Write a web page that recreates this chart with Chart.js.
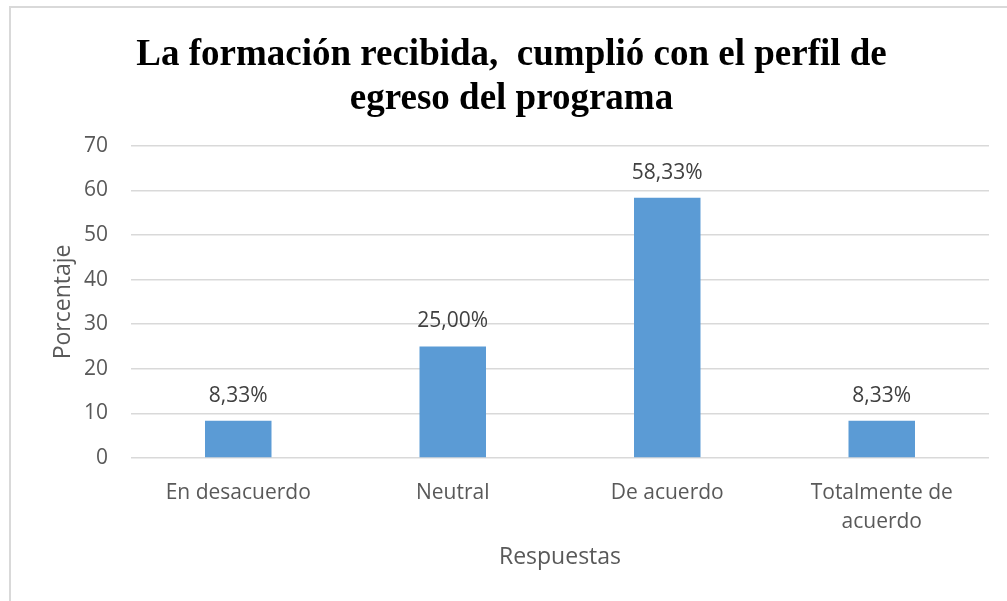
<!DOCTYPE html>
<html>
<head>
<meta charset="utf-8">
<script src="https://cdn.jsdelivr.net/npm/chart.js@4/dist/chart.umd.min.js"></script>
<style>
    body { margin: 0; background: #fff; }
    #wrap { position: relative; width: 1007px; height: 601px; overflow: hidden; }
    #marco { position: absolute; left: 9px; top: 6px; width: 1100px; height: 700px; border-left: 2px solid #d9d9d9; border-top: 2px solid #d9d9d9; pointer-events: none; }
</style>
</head>
<body>
<div id="wrap">
    <canvas id="myChart" width="1007" height="601"></canvas>
    <div id="marco"></div>
</div>
<script>
/** 数据 */
var categorias = ['En desacuerdo', 'Neutral', 'De acuerdo', ['Totalmente de', 'acuerdo']]
var porcentajes = [8.33, 25.00, 58.33, 8.33]
var ticksY = [0, 10, 20, 30, 40, 50, 60, 70]
var titulo = ['La formación recibida,  cumplió con el perfil de', 'egreso del programa']

var grafico = {
    init: function () {
        grafico.funcs.createChart()
    },
    funcs: {
        // etiquetas encima de las barras
        etiquetas: {
            id: 'etiquetas',
            afterDatasetsDraw: function (chart) {
                var ctx = chart.ctx
                var meta = chart.getDatasetMeta(0)
                ctx.save()
                ctx.font = '21px "Open Sans"'
                ctx.fillStyle = '#404040'
                ctx.textAlign = 'center'
                ctx.textBaseline = 'middle'
                meta.data.forEach(function (bar, i) {
                    var txt = porcentajes[i].toFixed(2).replace('.', ',') + '%'
                    ctx.fillText(txt, bar.x, bar.y - 25)
                })
                ctx.restore()
            }
        },
        createChart: function () {
            var ctx = document.getElementById('myChart').getContext('2d')
            new Chart(ctx, {
                type: 'bar',
                data: {
                    labels: categorias,
                    datasets: [{
                        data: porcentajes,
                        backgroundColor: '#5B9BD5',
                        categoryPercentage: 1,
                        barPercentage: 0.31
                    }]
                },
                options: {
                    responsive: false,
                    animation: false,
                    layout: { padding: { left: 34, right: 18, top: 0, bottom: 0 } },
                    plugins: {
                        legend: { display: false },
                        tooltip: { enabled: false },
                        title: {
                            display: true,
                            text: titulo,
                            color: '#000',
                            font: { family: '"Liberation Serif"', size: 37, weight: 'bold', lineHeight: 1.2 },
                            padding: { top: 33, bottom: 24 }
                        }
                    },
                    scales: {
                        x: {
                            grid: { display: false },
                            border: { display: false },
                            ticks: { color: '#595959', padding: 12, font: { family: '"Open Sans"', size: 21, lineHeight: 1.4 } },
                            title: { display: true, text: 'Respuestas', color: '#595959', font: { family: '"Open Sans"', size: 23 }, padding: { top: 0, bottom: 30 } },
                            afterFit: function (scale) { scale.height = 143 }
                        },
                        y: {
                            min: 0,
                            max: 70,
                            afterBuildTicks: function (scale) {
                                scale.ticks = ticksY.map(function (v) { return { value: v } })
                            },
                            grid: { color: '#d9d9d9', lineWidth: 1.5, drawTicks: false },
                            border: { display: false },
                            ticks: { color: '#595959', padding: 23, font: { family: '"Open Sans"', size: 21 } },
                            title: { display: true, text: 'Porcentaje', color: '#595959', font: { family: '"Open Sans"', size: 23 }, padding: { top: 16, bottom: 0 } },
                            afterFit: function (scale) { scale.width = 97 }
                        }
                    }
                },
                plugins: [grafico.funcs.etiquetas]
            })
        }
    }
}
grafico.init()
</script>
</body>
</html>
